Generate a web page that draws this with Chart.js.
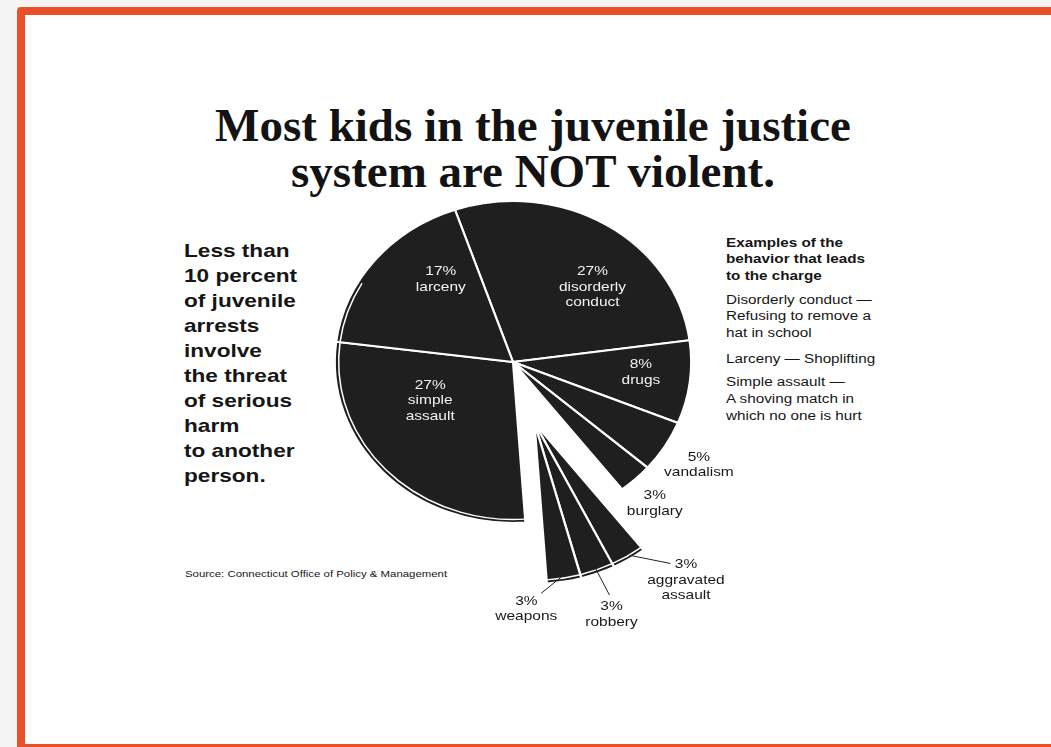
<!DOCTYPE html>
<html>
<head>
<meta charset="utf-8">
<script src="https://cdn.jsdelivr.net/npm/chart.js@4.4.1/dist/chart.umd.min.js"></script>
<style>
  html, body { margin: 0; padding: 0; }
  body { width: 1051px; height: 747px; overflow: hidden; background: #f4f4f4; position: relative;
         font-family: "Liberation Sans", Arial, sans-serif; color: #161616; }
  #frame { position: absolute; left: 17px; top: 7px; width: 1100px; height: 729px;
           border: 8px solid #e9502a; border-radius: 4px; background: #fff; }
  .abs { position: absolute; white-space: nowrap; transform-origin: 0 0; }
  #title { left: 133px; top: 102px; width: 800px; text-align: center;
           font: bold 47px/46px "Liberation Serif", serif; color: #131313; }
  #lede { left: 184px; top: 237.6px; font: bold 19px/25px "Liberation Sans", Arial, sans-serif; transform: scaleX(1.19); }
  .ex { left: 726px; font-size: 12.5px; line-height: 16.8px; transform: scaleX(1.22); }
  .ex b { font-weight: bold; }
  #source { left: 185px; top: 568.4px; font-size: 9.5px; line-height: 12px; transform: scaleX(1.2); }
  #pie { position: absolute; left: 233px; top: 82px; }
</style>
</head>
<body>
<div id="frame"></div>
<div id="title" class="abs">Most kids in the juvenile justice<br>system are NOT violent.</div>
<div id="lede" class="abs">Less than<br>10 percent<br>of juvenile<br>arrests<br>involve<br>the threat<br>of serious<br>harm<br>to another<br>person.</div>
<div class="abs ex" style="top:234.6px"><b>Examples of the<br>behavior that leads<br>to the charge</b></div>
<div class="abs ex" style="top:291.6px">Disorderly conduct —<br>Refusing to remove a<br>hat in school</div>
<div class="abs ex" style="top:350.6px">Larceny — Shoplifting</div>
<div class="abs ex" style="top:374px">Simple assault —<br>A shoving match in<br>which no one is hurt</div>
<div id="source" class="abs">Source: Connecticut Office of Policy &amp; Management</div>
<canvas id="pie" width="560" height="560"></canvas>
<script>
// slices, clockwise from the top
const categories = ['disorderly conduct', 'drugs', 'vandalism', 'burglary',
  'aggravated assault', 'robbery', 'weapons', 'simple assault', 'larceny'];
const shares = [27, 8, 5, 3, 3, 3, 3, 27, 17];
const exploded = ['aggravated assault', 'robbery', 'weapons'];

// look of the scanned pie
const SX = 1.107;            // the scan is stretched sideways
const RIM = [142, 300];      // thin white rim, degrees clockwise from top
const EXPLODE = { dist: 63.8, turn: 3.2 };
const INK = '#1f1f1f';

// label placement: r = fraction of radius, da = degrees off the slice middle
const place = {
  'disorderly conduct': { r: 0.65, da: 11.7 },
  'drugs':              { r: 0.72, da: -2.6 },
  'vandalism':          { r: 1.22, da: -0.4 },
  'burglary':           { r: 1.18, da: 1 },
  'aggravated assault': { r: 1.29, da: -9.1, lead: [0.98, -0.8, 1.16, -9] },
  'robbery':            { r: 1.26, da: 0.8, lead: [0.97, 0.1, 1.15, -0.6] },
  'weapons':            { r: 1.15, da: 11.9, lead: [0.97, 0.7, 1.06, 7.6] },
  'simple assault':     { r: 0.52, da: 16.7 },
  'larceny':            { r: 0.66, da: 13 }
};

function rad(d) { return d * Math.PI / 180; }

function explodeShift(arcs) {
  const idx = categories.map((c, i) => exploded.includes(c) ? i : -1).filter(i => i >= 0);
  const a = (arcs[idx[0]].startAngle + arcs[idx[idx.length - 1]].endAngle) / 2 + rad(EXPLODE.turn);
  return { x: EXPLODE.dist * Math.cos(a), y: EXPLODE.dist * Math.sin(a) };
}

const pieLook = {
  id: 'pieLook',
  beforeDatasetDraw(chart, args) {
    const ctx = chart.ctx, arcs = args.meta.data;
    const cx = arcs[0].x, cy = arcs[0].y;
    const shift = explodeShift(arcs);
    ctx.save();
    ctx.translate(cx, cy); ctx.scale(SX, 1); ctx.translate(-cx, -cy);
    arcs.forEach((arc, i) => {
      ctx.save();
      if (exploded.includes(categories[i])) ctx.translate(shift.x, shift.y);
      arc.draw(ctx);
      const a0 = Math.max(arc.startAngle, rad(RIM[0] - 90));
      const a1 = Math.min(arc.endAngle, rad(RIM[1] - 90));
      if (a1 > a0) {
        ctx.beginPath();
        ctx.arc(cx, cy, arc.outerRadius - 3.5, a0, a1);
        ctx.strokeStyle = '#fff';
        ctx.lineWidth = 1.4;
        ctx.stroke();
      }
      ctx.restore();
    });
    ctx.restore();
    return false;
  },
  afterDatasetsDraw(chart) {
    const ctx = chart.ctx, arcs = chart.getDatasetMeta(0).data;
    const cx = arcs[0].x, cy = arcs[0].y, R = arcs[0].outerRadius;
    const shift = explodeShift(arcs);
    const at = (arc, i, r, da) => {
      const a = (arc.startAngle + arc.endAngle) / 2 + rad(da);
      let x = r * R * Math.cos(a), y = r * R * Math.sin(a);
      if (exploded.includes(categories[i])) { x += shift.x; y += shift.y; }
      return { x: cx + SX * x, y: cy + y };
    };
    ctx.save();
    ctx.font = '13px "Liberation Sans", Arial, sans-serif';
    ctx.textAlign = 'center';
    ctx.textBaseline = 'alphabetic';
    arcs.forEach((arc, i) => {
      const p = place[categories[i]];
      const inside = p.r < 1;
      const lines = [shares[i] + '%'].concat(categories[i].split(' '));
      const lh = inside ? 15.5 : 15.7;
      const pos = at(arc, i, p.r, p.da);
      let y = pos.y - (lines.length - 1) * lh / 2 + 4.65;
      ctx.fillStyle = inside ? '#f2f2f2' : '#181818';
      lines.forEach(t => {
        ctx.save();
        ctx.translate(pos.x, y);
        ctx.scale(1.19, 1);
        ctx.fillText(t, 0, 0);
        ctx.restore();
        y += lh;
      });
      if (p.lead) {
        const s = at(arc, i, p.lead[0], p.lead[1]);
        const e = at(arc, i, p.lead[2], p.lead[3]);
        ctx.beginPath();
        ctx.moveTo(s.x, s.y);
        ctx.lineTo(e.x, e.y);
        ctx.strokeStyle = '#222';
        ctx.lineWidth = 1;
        ctx.stroke();
      }
    });
    ctx.restore();
  }
};

new Chart(document.getElementById('pie'), {
  type: 'pie',
  data: {
    labels: categories,
    datasets: [{
      data: shares,
      backgroundColor: INK,
      borderColor: '#ffffff',
      borderWidth: 2
    }]
  },
  options: {
    responsive: false,
    animation: false,
    events: [],
    rotation: -19,
    radius: 161,
    layout: { padding: 0 },
    plugins: { legend: { display: false }, tooltip: { enabled: false } }
  },
  plugins: [pieLook]
});
</script>
</body>
</html>
